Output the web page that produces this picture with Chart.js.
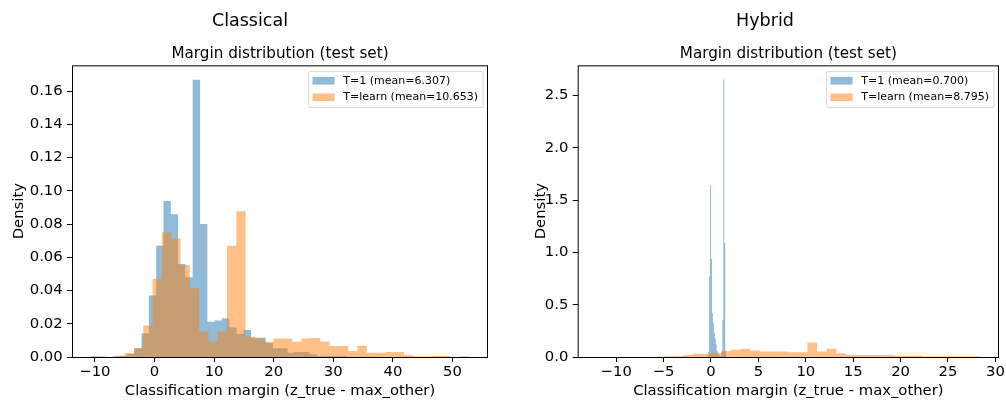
<!DOCTYPE html>
<html>
<head>
<meta charset="utf-8">
<script src="https://cdn.jsdelivr.net/npm/chart.js@4.4.1/dist/chart.umd.min.js"></script>
<style>
  html, body { margin: 0; padding: 0; background: #fff; }
  #wrap { position: relative; width: 1006px; height: 401px; }
  canvas { position: absolute; top: 0; }
  #classical { left: 0; }
  #hybrid { left: 500px; }
</style>
</head>
<body>
<div id="wrap">
  <canvas id="classical" width="500" height="401"></canvas>
  <canvas id="hybrid" width="506" height="401"></canvas>
</div>
<script>
// histogram densities, 1 value per bin; bins split the range evenly
const classicalT1Range = [-10.74, 38.26];
const classicalT1 = [
  0.0005, 0, 0, 0.0003, 0.0008, 0.002, 0.0052, 0.0142, 0.037, 0.067,
  0.0939, 0.0859, 0.0559, 0.048, 0.1669, 0.08, 0.0212, 0.022, 0.0233, 0.0178,
  0.014, 0.0162, 0.0116, 0.0116, 0.0084, 0.0052, 0.0052, 0.0026, 0.003, 0.003,
  0.0016, 0.0006, 0.0006, 0.0006, 0.0006, 0.0002, 0, 0.0001, 0, 0.0001,
];
const classicalLearnRange = [-9.7, 52.8];
const classicalLearn = [
  0.0005, 0, 0.0008, 0.0022, 0.0052, 0.019, 0.047, 0.075, 0.0713, 0.0553,
  0.0413, 0.0154, 0.0093, 0.0154, 0.067, 0.0877, 0.0122, 0.0112, 0.0092, 0.0112,
  0.0112, 0.0092, 0.0112, 0.0115, 0.0093, 0.0066, 0.0066, 0.0036, 0.0068, 0.0026,
  0.0026, 0.003, 0.003, 0.0012, 0.0004, 0.0004, 0.0008, 0.0008, 0, 0.0005,
];
const hybridT1Range = [-0.3, 1.6];
const hybridT1 = [
  0.05, 0.77, 1.64, 0.94, 0.42, 0.33, 0.23, 0.18, 0.12, 0.06,
  0.04, 0.02, 0.01, 0.01, 0.05, 0.355, 2.654, 1.09, 0.06,
];
const hybridLearnRange = [-12.04, 28.36];
const hybridLearn = [
  0.0005, 0, 0, 0, 0, 0, 0.002, 0.006, 0.006, 0.02,
  0.03, 0.03, 0.04, 0.055, 0.07, 0.078, 0.062, 0.052, 0.052, 0.052,
  0.045, 0.045, 0.138, 0.052, 0.078, 0.036, 0.02, 0.02, 0.02, 0.02,
  0.018, 0.013, 0.013, 0.013, 0.006, 0.006, 0.006, 0.006, 0.006, 0.006,
];

const classicalLabels = ["T=1 (mean=6.307)", "T=learn (mean=10.653)"];
const hybridLabels = ["T=1 (mean=0.700)", "T=learn (mean=8.795)"];

// axis limits and tick labels
const classicalX = [-13.84, 55.96];
const classicalXTicks = [-10, 0, 10, 20, 30, 40, 50];
const classicalYMax = 0.1755;
const classicalYTicks = [0, 0.02, 0.04, 0.06, 0.08, 0.1, 0.12, 0.14, 0.16];
const hybridX = [-14.06, 30.38];
const hybridXTicks = [-10, -5, 0, 5, 10, 15, 20, 25, 30];
const hybridYMax = 2.787;
const hybridYTicks = [0, 0.5, 1, 1.5, 2, 2.5];

const blueFill = "rgba(31, 119, 180, 0.5)";
const orangeFill = "rgba(255, 127, 14, 0.5)";
const axisFont = 14.8;

Chart.defaults.font.family = "'DejaVu Sans', sans-serif";
Chart.defaults.color = "#000";

function binEdges(range, count) {
  const step = (range[1] - range[0]) / count;
  const edges = [];
  for (let i = 0; i <= count; i++) edges.push(range[0] + i * step);
  return edges;
}

// each bin holds its density from its left edge, closed at the last edge
function stepPoints(range, dens) {
  const edges = binEdges(range, dens.length);
  const pts = dens.map((d, i) => ({ x: edges[i], y: d }));
  pts.push({ x: edges[edges.length - 1], y: 0 });
  return pts;
}

function minusSign(v) {
  return v < 0 ? "\u2212" + Math.abs(v) : String(v);
}

// box round the plot area
const frame = {
  id: "frame",
  afterDatasetsDraw(chart) {
    const { ctx, chartArea: a } = chart;
    ctx.save();
    ctx.strokeStyle = "#000";
    ctx.lineWidth = 1;
    ctx.strokeRect(a.left + 0.5, a.top + 0.5, a.right - a.left - 1, a.bottom - a.top);
    ctx.restore();
  },
};

// legend in the upper right corner of the plot
const cornerLegend = {
  id: "cornerLegend",
  afterDraw(chart) {
    const { ctx, chartArea: a } = chart;
    const fs = 11;
    const pad = 0.4 * fs;
    const handle = 2 * fs;
    const gap = 0.8 * fs;
    const spacing = 0.5 * fs;
    const inset = 0.5 * fs;
    const items = chart.data.datasets;

    ctx.save();
    ctx.font = fs + "px 'DejaVu Sans'";
    const textW = Math.max(...items.map((d) => ctx.measureText(d.label).width));
    const w = pad + handle + gap + textW + pad;
    const h = pad * 2 + fs * items.length + spacing * (items.length - 1);
    const x = a.right - inset - w;
    const y = a.top + inset;

    ctx.beginPath();
    ctx.roundRect(x + 0.5, y + 0.5, w, h, 2);
    ctx.fillStyle = "rgba(255, 255, 255, 0.8)";
    ctx.fill();
    ctx.strokeStyle = "rgba(204, 204, 204, 0.8)";
    ctx.lineWidth = 1;
    ctx.stroke();

    items.forEach((d, i) => {
      const cy = y + pad + i * (fs + spacing) + fs / 2;
      ctx.fillStyle = d.backgroundColor;
      ctx.fillRect(x + pad, cy - 0.35 * fs, handle, 0.7 * fs);
      ctx.fillStyle = "#000";
      ctx.textBaseline = "middle";
      ctx.fillText(d.label, x + pad + handle + gap, cy);
    });
    ctx.restore();
  },
};

function histChart(id, cfg) {
  const ctx = document.getElementById(id).getContext("2d");
  return new Chart(ctx, {
    type: "line",
    data: {
      datasets: [
        {
          label: cfg.labels[0],
          data: stepPoints(cfg.t1Range, cfg.t1),
          backgroundColor: blueFill,
          order: 2,
        },
        {
          label: cfg.labels[1],
          data: stepPoints(cfg.learnRange, cfg.learn),
          backgroundColor: orangeFill,
          order: 1,
        },
      ],
    },
    options: {
      responsive: false,
      animation: false,
      layout: { padding: { left: cfg.padLeft, right: cfg.padRight, top: 0, bottom: 0 } },
      elements: {
        line: {
          stepped: true,
          fill: "origin",
          borderWidth: 0,
          borderColor: "rgba(0,0,0,0)",
          tension: 0,
        },
        point: { radius: 0, hoverRadius: 0 },
      },
      plugins: {
        legend: { display: false },
        tooltip: { enabled: false },
        title: {
          display: true,
          text: cfg.title,
          color: "#000",
          font: { size: 17.5, weight: "normal" },
          padding: { top: 10.5, bottom: 6 },
        },
        subtitle: {
          display: true,
          text: "Margin distribution (test set)",
          color: "#000",
          fullSize: false,
          font: { size: 15.2, weight: "normal" },
          padding: { top: 7.2, bottom: 2.4 },
        },
      },
      scales: {
        x: {
          type: "linear",
          min: cfg.xLim[0],
          max: cfg.xLim[1],
          afterBuildTicks: (axis) => {
            axis.ticks = cfg.xTicks.map((v) => ({ value: v }));
          },
          afterFit: (axis) => {
            axis.height = 44;
          },
          ticks: {
            callback: (v) => minusSign(v),
            color: "#000",
            padding: 1,
            maxRotation: 0,
            autoSkip: false,
            font: { size: axisFont },
          },
          grid: { drawOnChartArea: false, drawTicks: true, tickLength: 5, color: "#000", lineWidth: 1 },
          border: { display: false },
          title: {
            display: true,
            text: "Classification margin (z_true - max_other)",
            color: "#000",
            font: { size: axisFont },
            padding: { top: 0, bottom: 1.2 },
          },
        },
        y: {
          type: "linear",
          min: 0,
          max: cfg.yMax,
          afterBuildTicks: (axis) => {
            axis.ticks = cfg.yTicks.map((v) => ({ value: v }));
          },
          afterFit: (axis) => {
            axis.width = cfg.yWidth;
          },
          ticks: {
            callback: (v) => v.toFixed(cfg.yDigits),
            color: "#000",
            padding: 4.3,
            font: { size: axisFont },
          },
          grid: { drawOnChartArea: false, drawTicks: true, tickLength: 5, color: "#000", lineWidth: 1 },
          border: { display: false },
          title: {
            display: true,
            text: "Density",
            color: "#000",
            font: { size: axisFont, lineHeight: 1 },
            padding: { top: cfg.yTitlePad, bottom: 0 },
          },
        },
      },
    },
    plugins: [frame, cornerLegend],
  });
}

histChart("classical", {
  title: "Classical",
  labels: classicalLabels,
  t1Range: classicalT1Range,
  t1: classicalT1,
  learnRange: classicalLearnRange,
  learn: classicalLearn,
  xLim: classicalX,
  xTicks: classicalXTicks,
  yMax: classicalYMax,
  yTicks: classicalYTicks,
  yDigits: 2,
  padLeft: 12,
  padRight: 12,
  yWidth: 60,
  yTitlePad: 0,
});

histChart("hybrid", {
  title: "Hybrid",
  labels: hybridLabels,
  t1Range: hybridT1Range,
  t1: hybridT1,
  learnRange: hybridLearnRange,
  learn: hybridLearn,
  xLim: hybridX,
  xTicks: hybridXTicks,
  yMax: hybridYMax,
  yTicks: hybridYTicks,
  yDigits: 1,
  padLeft: 31,
  padRight: 7,
  yWidth: 46.7,
  yTitlePad: 3,
});
</script>
</body>
</html>
